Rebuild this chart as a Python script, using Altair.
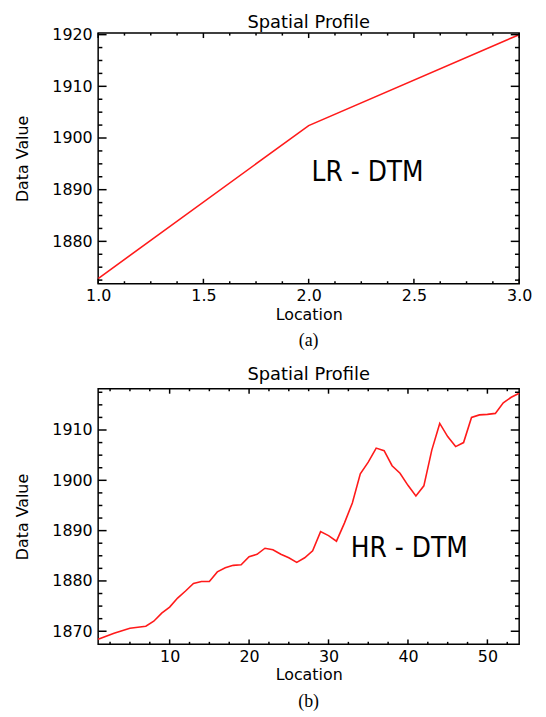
import altair as alt
import pandas as pd

# ---------------- data ----------------
lr_location = [1.0, 2.0, 3.0]
lr_value = [1872.8, 1902.4, 1920.0]

hr_location = list(range(1, 55))
hr_value = [
    1868.4, 1869.0, 1869.6, 1870.1, 1870.6, 1870.8, 1871.0, 1872.0, 1873.6, 1874.8,
    1876.6, 1878.0, 1879.5, 1879.9, 1879.9, 1881.8, 1882.6, 1883.1, 1883.2, 1884.8,
    1885.3, 1886.5, 1886.2, 1885.3, 1884.6, 1883.7, 1884.6, 1886.0, 1889.8, 1889.0,
    1887.9, 1891.5, 1895.5, 1901.3, 1903.6, 1906.4, 1905.9, 1902.9, 1901.4, 1899.0,
    1896.9, 1898.9, 1906.0, 1911.3, 1908.7, 1906.7, 1907.5, 1912.5, 1913.0, 1913.1,
    1913.3, 1915.4, 1916.5, 1917.3,
]

titles = ["Spatial Profile", "Spatial Profile"]
captions = ["(a)", "(b)"]
annotations = ["LR - DTM", "HR - DTM"]
x_titles = ["Location", "Location"]
y_titles = ["Data Value", "Data Value"]

a_x_major = [1.0, 1.5, 2.0, 2.5, 3.0]
a_x_minor = [1.125, 1.25, 1.375, 1.625, 1.75, 1.875, 2.125, 2.25, 2.375, 2.625, 2.75, 2.875]
a_y_major = [1880, 1890, 1900, 1910, 1920]
a_y_minor = [1872.5, 1875, 1877.5, 1882.5, 1885, 1887.5, 1892.5, 1895, 1897.5,
             1902.5, 1905, 1907.5, 1912.5, 1915, 1917.5]
a_x_domain = [1.0, 3.0]
a_y_domain = [1871.8, 1920.3]

b_x_major = [10, 20, 30, 40, 50]
b_x_minor = [2.5, 5, 7.5, 12.5, 15, 17.5, 22.5, 25, 27.5, 32.5, 35, 37.5,
             42.5, 45, 47.5, 52.5]
b_y_major = [1870, 1880, 1890, 1900, 1910]
b_y_minor = [1872.5, 1875, 1877.5, 1882.5, 1885, 1887.5, 1892.5, 1895, 1897.5,
             1902.5, 1905, 1907.5, 1912.5, 1915, 1917.5]
b_x_domain = [1, 54]
b_y_domain = [1867.4, 1918.2]

W = 425
HA = 253
HB = 258


def panel(idx, locs, vals, xmaj, xmin, ymaj, ymin, xdom, ydom, h, xfmt,
          ann_x, ann_y, title_offset):
    xs = alt.Scale(domain=xdom, nice=False, zero=False)
    ys = alt.Scale(domain=ydom, nice=False, zero=False)
    xax = alt.Axis(values=xmaj, format=xfmt, title=x_titles[idx])
    yax = alt.Axis(values=ymaj, format="d", title=y_titles[idx])

    df = pd.DataFrame({"loc": locs, "val": vals})
    line = alt.Chart(df).mark_line(color="#ff1a1a", strokeWidth=1.6).encode(
        x=alt.X("loc:Q", scale=xs, axis=xax),
        y=alt.Y("val:Q", scale=ys, axis=yax),
    )
    ann = alt.Chart(pd.DataFrame({"s": [annotations[idx]]})).mark_text(
        font="Liberation Sans Narrow, DejaVu Sans Condensed, Liberation Sans",
        fontSize=28, color="black", align="center", baseline="middle",
    ).encode(text="s:N", x=alt.value(ann_x), y=alt.value(ann_y))
    cap = alt.Chart(pd.DataFrame({"s": [captions[idx]]})).mark_text(
        font="Liberation Serif", fontSize=18, color="black",
        align="center", baseline="middle",
    ).encode(text="s:N", x=alt.value(W / 2), y=alt.value(h + 58))

    layers = [line, ann, cap]
    xl = {"maj": 5, "min": 2.5}
    yl = {"maj": 8.5, "min": 4.25}
    for vals_, L in [(xmaj, xl["maj"]), (xmin, xl["min"])]:
        base = alt.Chart(pd.DataFrame({"loc": vals_})).mark_rule(color="black", strokeWidth=1.5)
        layers.append(base.encode(x=alt.X("loc:Q", scale=xs, axis=xax),
                                  y=alt.value(h), y2=alt.value(h - L)))
        layers.append(base.encode(x=alt.X("loc:Q", scale=xs, axis=xax),
                                  y=alt.value(0), y2=alt.value(L)))
    for vals_, L in [(ymaj, yl["maj"]), (ymin, yl["min"])]:
        base = alt.Chart(pd.DataFrame({"val": vals_})).mark_rule(color="black", strokeWidth=1.5)
        layers.append(base.encode(y=alt.Y("val:Q", scale=ys, axis=yax),
                                  x=alt.value(0), x2=alt.value(L)))
        layers.append(base.encode(y=alt.Y("val:Q", scale=ys, axis=yax),
                                  x=alt.value(W), x2=alt.value(W - L)))

    return alt.layer(*layers).properties(
        width=W, height=h,
        title=alt.TitleParams(titles[idx], font="DejaVu Sans", fontSize=18,
                              fontWeight="normal", color="black",
                              offset=title_offset),
    )


pa = panel(0, lr_location, lr_value, a_x_major, a_x_minor, a_y_major, a_y_minor,
           a_x_domain, a_y_domain, HA, ".1f", 272, 141, -5)
pb = panel(1, hr_location, hr_value, b_x_major, b_x_minor, b_y_major, b_y_minor,
           b_x_domain, b_y_domain, HB, "d", 314, 162, 4)

chart = alt.vconcat(pa, pb, spacing=14).properties(
    padding={"left": 5, "top": 1, "right": 5, "bottom": 0}
).configure_view(
    stroke="black", strokeWidth=1.5
).configure_axis(
    labelFont="DejaVu Sans", labelFontSize=16, labelColor="black",
    titleFont="DejaVu Sans", titleFontSize=16, titleFontWeight="normal",
    titleColor="black", ticks=False, domain=False, grid=False,
    labelOverlap=False, labelFlush=False,
).configure_axisX(
    labelPadding=4, titlePadding=3,
).configure_axisY(
    labelPadding=6, titlePadding=22,
)

chart.save("out.html", embed_options={"renderer": "svg", "actions": False})
